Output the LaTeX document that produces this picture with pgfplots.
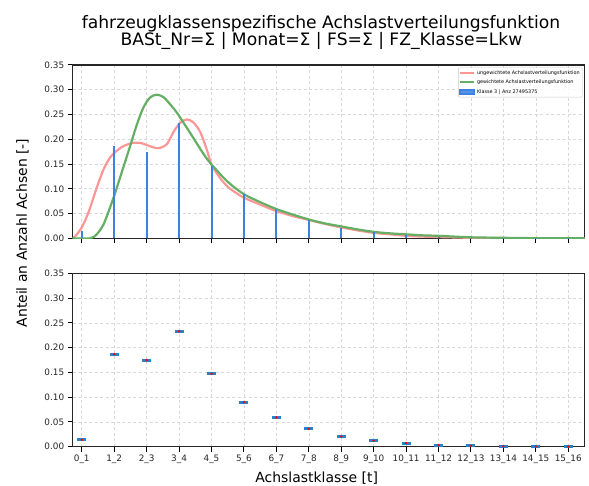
\documentclass[border=0pt]{standalone}
\usepackage{fontspec}
\setmainfont{DejaVu Sans}
\usepackage{pgfplots}
\pgfplotsset{compat=1.18}
\definecolor{redc}{RGB}{255,150,150}
\definecolor{greenc}{RGB}{100,175,100}
\definecolor{barblue}{RGB}{60,130,225}
\definecolor{tabblue}{RGB}{40,130,200}
\pgfplotsset{
 myaxis/.style={
  scale only axis, width=511.8bp, height=173.3bp,
  xmin=-0.28, xmax=15.5, ymin=0, ymax=0.35,
  xtick={0,...,15},
  ytick={0,0.05,0.1,0.15,0.2,0.25,0.3,0.35},
  yticklabel style={/pgf/number format/.cd, fixed, fixed zerofill, precision=2, assume math mode=true},
  tick label style={font=\fontsize{8.9}{10}\selectfont, text=black!85},
  grid=major, major grid style={dash pattern=on 3bp off 2.5bp, black!15, line width=0.6bp},
  tick align=outside, xtick pos=left, ytick pos=left,
  major tick length=5bp,
  major tick style={line width=1bp, black},
  axis line style={line width=1.4bp, black!85},
 }
}
\begin{document}
\begin{tikzpicture}
\path[use as bounding box] (0,0) rectangle (589bp,486bp);
\begin{axis}[myaxis, at={(72.7bp,247.7bp)}, anchor=south west,
  xticklabels={},
  legend style={at={(rel axis cs:0.996,0.985)}, anchor=north east,
    font=\fontsize{4.9}{5.6}\selectfont, draw=black!20, rounded corners=1bp,
    inner sep=0.6bp, row sep=0.3bp, cells={anchor=west}, fill=white, fill opacity=0.85, text opacity=1},
]
\addplot[redc, line width=2.2bp, smooth, tension=0.5,
  legend image code/.code={\draw[redc, line width=2bp, sharp corners] (0bp,0bp) -- (14bp,0bp);}] coordinates {
(-0.27,0) (-0.15,0.008) (0,0.022) (0.13,0.04) (0.26,0.062) (0.46,0.102) (0.67,0.139)
(0.87,0.163) (1.03,0.174) (1.28,0.186) (1.59,0.193) (1.85,0.192) (2.1,0.186) (2.36,0.182)
(2.62,0.19) (2.83,0.215) (3.03,0.233) (3.24,0.24) (3.44,0.234) (3.65,0.215) (3.85,0.18)
(4.0,0.149) (4.25,0.123) (4.5,0.104) (4.75,0.092) (5.0,0.082) (5.5,0.068) (6.0,0.055)
(6.5,0.045) (7.0,0.037) (7.5,0.029) (8,0.022) (8.5,0.016) (9,0.011) (9.5,0.008) (10,0.005)
(10.5,0.0035) (11,0.0025) (12,0.001) (13,0.0004) (14,0.0001) (15.5,0)};
\addlegendentry{ungewichtete Achslastverteilungsfunktion}
\addplot[greenc, line width=2.2bp, smooth, tension=0.5,
  legend image code/.code={\draw[greenc, line width=2bp, sharp corners] (0bp,0bp) -- (14bp,0bp);}] coordinates {
(-0.28,0) (0.26,0) (0.46,0.008) (0.67,0.028) (0.87,0.062) (1.03,0.092) (1.28,0.143)
(1.49,0.186) (1.7,0.23) (1.9,0.264) (2.1,0.284) (2.31,0.29) (2.52,0.285) (2.72,0.271)
(2.93,0.254) (3.13,0.234) (3.34,0.213) (3.6,0.186) (3.8,0.166) (4.0,0.149) (4.5,0.114)
(5.0,0.089) (5.5,0.073) (6.0,0.059) (6.5,0.048) (7.0,0.038) (7.5,0.030) (8,0.024)
(8.5,0.018) (9,0.013) (9.5,0.010) (10,0.008) (10.5,0.006) (11,0.005) (12,0.002)
(13,0.001) (14,0.0003) (15.5,0)};
\addlegendentry{gewichtete Achslastverteilungsfunktion}
\addplot[ycomb, barblue, line width=2bp,
  legend image code/.code={\fill[barblue, sharp corners] (0bp,-1.6bp) rectangle (14bp,1.6bp);}] coordinates {
(0,0.014) (1,0.187) (2,0.175) (3,0.233) (4,0.147) (5,0.090) (6,0.059) (7,0.036)
(8,0.021) (9,0.012) (10,0.0074) (11,0.0034) (12,0.0015) (13,0.001) (14,0.0003) (15,0.0002)};
\addlegendentry{Klasse 3 | Anz 27495375}
\end{axis}
\begin{axis}[myaxis, at={(72.7bp,39.3bp)}, anchor=south west,
  xticklabels={0\_1,1\_2,2\_3,3\_4,4\_5,5\_6,6\_7,7\_8,8\_9,9\_10,10\_11,11\_12,12\_13,13\_14,14\_15,15\_16},
]
\addplot[only marks, mark=-, mark size=4.5bp, mark options={line width=3bp, draw=tabblue}] coordinates {
(0,0.014) (1,0.187) (2,0.175) (3,0.233) (4,0.147) (5,0.090) (6,0.059) (7,0.036)
(8,0.021) (9,0.012) (10,0.0074) (11,0.0034) (12,0.0015) (13,0.001) (14,0.0003) (15,0.0002)};
\addplot[only marks, mark=*, mark size=1bp, mark options={draw=red, fill=red}] coordinates {
(0,0.014) (1,0.187) (2,0.175) (3,0.233) (4,0.147) (5,0.090) (6,0.059) (7,0.036)
(8,0.021) (9,0.012) (10,0.0074) (11,0.0034) (12,0.0015) (13,0.001) (14,0.0003) (15,0.0002)};
\end{axis}
\node[anchor=base, font=\fontsize{17.2}{20}\selectfont] at (321bp,457.7bp) {fahrzeugklassenspezifische Achslastverteilungsfunktion};
\node[anchor=base, font=\fontsize{17.2}{20}\selectfont] at (321.5bp,440bp) {BASt\_Nr=Σ | Monat=Σ | FS=Σ | FZ\_Klasse=Lkw};
\node[rotate=90, anchor=center, font=\fontsize{14}{16}\selectfont] at (22.5bp,253bp) {Anteil an Anzahl Achsen [-]};
\node[anchor=base, font=\fontsize{14}{16}\selectfont] at (316.7bp,4bp) {Achslastklasse [t]};
\end{tikzpicture}
\end{document}
